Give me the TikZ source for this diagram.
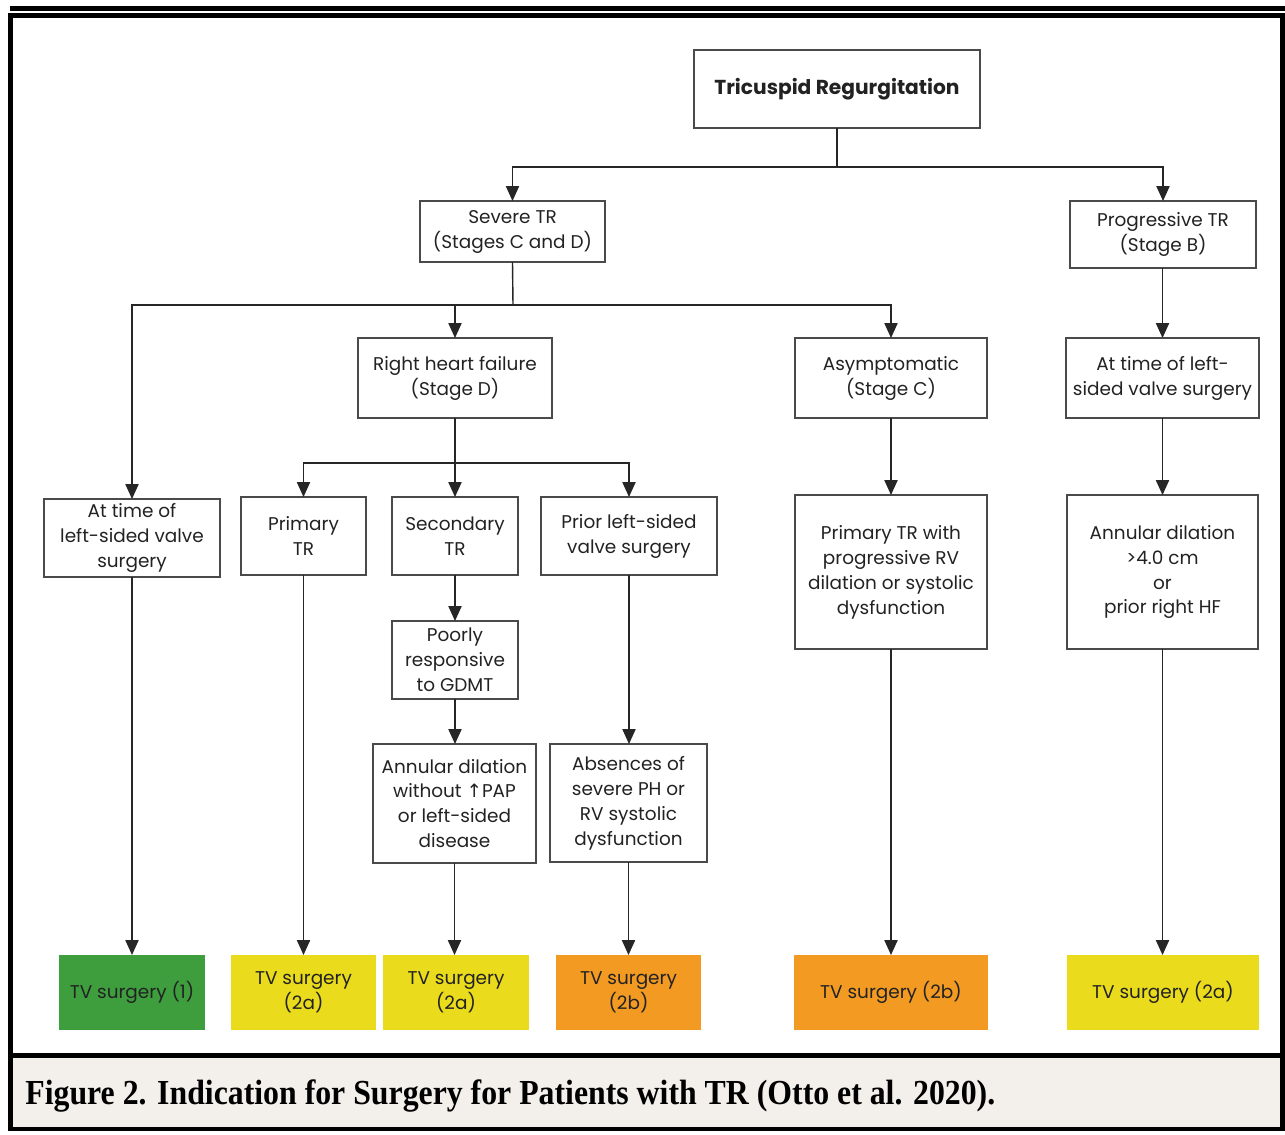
\documentclass[tikz,border=0pt]{standalone}
\usepackage{fontspec}
\setmainfont{Poppins}
\newfontfamily\capfont{Liberation Serif}
\newfontfamily\symfont{DejaVu Sans}
\usetikzlibrary{arrows.meta}
\definecolor{tvgreen}{HTML}{3E9E3E}
\definecolor{tvyellow}{HTML}{EADC1C}
\definecolor{tvorange}{HTML}{F29A22}
\definecolor{capbg}{HTML}{F3F0EB}
\definecolor{boxline}{HTML}{4A4A4A}
\definecolor{txt}{HTML}{222222}
\tikzset{
  fbox/.style={draw=boxline, line width=0.9pt, inner sep=0pt, outer sep=0pt, align=center, text=txt, font=\fontsize{10.5}{14.2}\selectfont},
  tvbox/.style={inner sep=0pt, outer sep=0pt, align=center, text=txt, font=\fontsize{10.5}{14.2}\selectfont},
  conn/.style={draw=black!85, line width=0.8pt},
  arr/.style={conn, -{Triangle[width=7.5pt,length=8.5pt]}},
}
\newcommand\bx[7]{\node[#1, minimum width={(#4-#2)*0.02cm}, minimum height={(#5-#3)*0.02cm}] (#6) at ({(#2+#4)/2},{(#3+#5)/2+2}) {#7};}
\begin{document}
\begin{tikzpicture}[x=0.02cm, y=-0.02cm]
\useasboundingbox (0,0) rectangle (1285,1134);
% frame
\fill[black] (10,6) rectangle (1285,11);
\fill[black] (8,13) rectangle (1285,18);
\fill[black] (8,13) rectangle (13,1131);
\fill[black] (1280,13) rectangle (1285,1131);
\fill[capbg] (13,1058) rectangle (1280,1127);
\fill[black] (8,1053) rectangle (1285,1058);
\fill[black] (8,1127) rectangle (1285,1131);
\node[anchor=west, inner sep=0pt] (cap) at (25,1096) {\resizebox{19.4cm}{\height}{\capfont\fontsize{20}{24}\selectfont\bfseries Figure 2. Indication for Surgery for Patients with TR (Otto et al. 2020).}};
% boxes
\bx{fbox}{694}{48}{980}{126}{tr}{\fontsize{11.5}{15}\selectfont\bfseries Tricuspid Regurgitation}
\bx{fbox}{420}{199}{605}{260}{sev}{Severe TR\\(Stages C and D)}
\bx{fbox}{1070}{199}{1256}{266}{prog}{Progressive TR\\(Stage B)}
\bx{fbox}{358}{336}{552}{416}{rhf}{Right heart failure\\(Stage D)}
\bx{fbox}{795}{336}{987}{416}{asy}{Asymptomatic\\(Stage C)}
\bx{fbox}{1066}{336}{1259}{416}{atr}{At time of left-\\sided valve surgery}
\bx{fbox}{44}{497}{220}{575}{atl}{At time of\\left-sided valve\\surgery}
\bx{fbox}{241}{495}{366}{573}{prim}{Primary\\TR}
\bx{fbox}{392}{495}{518}{573}{sec}{Secondary\\TR}
\bx{fbox}{541}{495}{717}{573}{prior}{Prior left-sided\\valve surgery}
\bx{fbox}{392}{619}{518}{697}{poor}{Poorly\\responsive\\to GDMT}
\bx{fbox}{373}{742}{536}{861}{ann}{Annular dilation\\without {\symfont\char"2191}PAP\\or left-sided\\disease}
\bx{fbox}{550}{742}{707}{860}{abs}{Absences of\\severe PH or\\RV systolic\\dysfunction}
\bx{fbox}{795}{493}{987}{647}{ptr}{Primary TR with\\progressive RV\\dilation or systolic\\dysfunction}
\bx{fbox}{1067}{493}{1258}{647}{ann4}{Annular dilation\\>4.0 cm\\or\\prior right HF}
% surgery boxes
\bx{tvbox,fill=tvgreen}{59}{953}{205}{1028}{tv1}{TV surgery (1)}
\bx{tvbox,fill=tvyellow}{231}{953}{376}{1028}{tv2}{TV surgery\\(2a)}
\bx{tvbox,fill=tvyellow}{383}{953}{529}{1028}{tv3}{TV surgery\\(2a)}
\bx{tvbox,fill=tvorange}{556}{953}{701}{1028}{tv4}{TV surgery\\(2b)}
\bx{tvbox,fill=tvorange}{794}{953}{988}{1028}{tv5}{TV surgery (2b)}
\bx{tvbox,fill=tvyellow}{1067}{953}{1259}{1028}{tv6}{TV surgery (2a)}
% connectors
\coordinate (j1) at (837,167);
\draw[conn] (tr.south) -- (j1);
\draw[arr] (j1) -| (sev.north);
\draw[arr] (j1) -| (prog.north);
\coordinate (j2) at (513,305);
\draw[conn] (sev.south) -- (j2);
\draw[arr] (j2) -| (atl.north);
\draw[arr] (j2) -| (rhf.north);
\draw[arr] (j2) -| (asy.north);
\draw[arr] (prog.south -| atr.north) -- (atr.north);
\coordinate (j3) at (455,463);
\draw[conn] (rhf.south) -- (j3);
\draw[arr] (j3) -| (prim.north);
\draw[arr] (j3) -| (sec.north);
\draw[arr] (j3) -| (prior.north);
\draw[arr] (sec.south) -- (poor.north);
\draw[arr] (poor.south) -- (poor.south |- ann.north);
\draw[arr] (prior.south) -- (prior.south |- abs.north);
\draw[arr] (asy.south) -- (ptr.north);
\draw[arr] (atr.south -| ann4.north) -- (ann4.north);
\draw[arr] (atl.south) -- (tv1.north);
\draw[arr] (prim.south) -- (prim.south |- tv2.north);
\draw[arr] (ann.south) -- (ann.south |- tv3.north);
\draw[arr] (abs.south) -- (abs.south |- tv4.north);
\draw[arr] (ptr.south) -- (ptr.south |- tv5.north);
\draw[arr] (ann4.south) -- (ann4.south |- tv6.north);
\end{tikzpicture}
\end{document}
